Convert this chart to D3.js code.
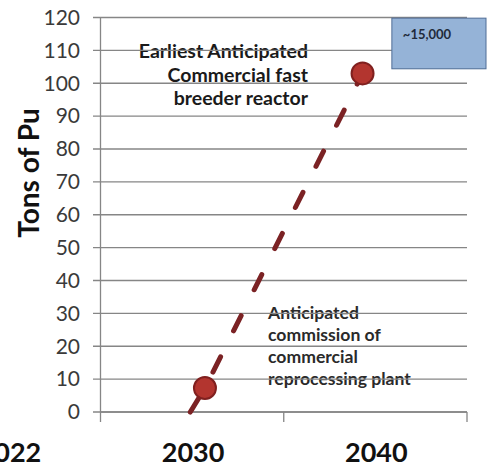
<!DOCTYPE html>
<html>
<head>
<meta charset="utf-8">
<script src="https://cdn.jsdelivr.net/npm/d3@7"></script>
<style>
  html, body { margin: 0; padding: 0; background: #fff; }
  svg { display: block; }
</style>
</head>
<body>
<div id="chart"></div>
<script>
// Axis categories and tick values
const categories = ["2022", "2030", "2040"];
const yTicks = [0, 10, 20, 30, 40, 50, 60, 70, 80, 90, 100, 110, 120];

// Plutonium stock path (year, tons of Pu)
const pathYears = [2029.9, 2030.7, 2039.3];
const pathTons = [0, 7.3, 103];
// Points that carry a milestone marker
const milestoneIdx = [1, 2];

// Milestone notes
const breederNote = ["Earliest Anticipated", "Commercial fast", "breeder reactor"];
const reprocessNote = ["Anticipated", "commission of", "commercial", "reprocessing plant"];
const calloutText = "~15,000";
const yTitle = "Tons of Pu";

const W = 487, H = 468;
const svg = d3.select("#chart").append("svg").attr("width", W).attr("height", H);

const y = d3.scaleLinear().domain([0, 120]).range([412, 17.5]);
const x = d3.scaleLinear().domain([2025, 2045]).range([100.5, 467]);
const step = x(2035) - x(2025);
const xBand = d3.scaleBand().domain(categories).range([x(2025) - step, x(2045)]);

const font = "Lato, 'Open Sans', sans-serif";

// Notes sit beneath the gridlines
const breederG = svg.append("g")
  .attr("font-family", font).attr("font-weight", 700).attr("font-size", 19.5)
  .attr("fill", "#1a1a1a").attr("text-anchor", "end");
breederNote.forEach((t, i) => {
  breederG.append("text").attr("x", 308).attr("y", 58.3 + i * 23.4).text(t);
});

const reprocG = svg.append("g")
  .attr("font-family", font).attr("font-weight", 700).attr("font-size", 17.6)
  .attr("fill", "#2a2a2a").attr("text-anchor", "start");
reprocessNote.forEach((t, i) => {
  reprocG.append("text").attr("x", 268).attr("y", 319 + i * 22).text(t);
});

// Horizontal gridlines and y axis
const grid = svg.append("g");
grid.selectAll("line.grid").data(yTicks).join("line")
  .attr("class", "grid")
  .attr("x1", 93).attr("x2", x(2045))
  .attr("y1", d => y(d)).attr("y2", d => y(d))
  .attr("stroke", "#868686").attr("stroke-width", 1.3);

svg.append("line")
  .attr("x1", x(2025)).attr("x2", x(2025))
  .attr("y1", y(120)).attr("y2", y(0))
  .attr("stroke", "#868686").attr("stroke-width", 1.3);

svg.append("g")
  .attr("font-family", font).attr("font-size", 21).attr("fill", "#3a3a3a")
  .attr("text-anchor", "end")
  .selectAll("text").data(yTicks).join("text")
  .attr("x", 80).attr("y", d => y(d)).attr("dy", "0.35em")
  .text(d => d);

// X axis: band boundaries as ticks, labels centred in each band
const xg = svg.append("g").attr("transform", `translate(0,${y(0)})`);
xg.append("line")
  .attr("x1", x(2025)).attr("x2", x(2045)).attr("y1", 0).attr("y2", 0)
  .attr("stroke", "#868686").attr("stroke-width", 1.3);
const bounds = categories.slice(1).map(c => xBand(c)).concat([xBand.range()[1]]);
xg.selectAll("line.tk").data(bounds).join("line")
  .attr("class", "tk")
  .attr("x1", d => d).attr("x2", d => d).attr("y1", 0).attr("y2", 10)
  .attr("stroke", "#868686").attr("stroke-width", 1.3);
xg.selectAll("text.cat").data(categories).join("text")
  .attr("class", "cat")
  .attr("x", d => xBand(d) + xBand.bandwidth() / 2 + 1)
  .attr("y", 50)
  .attr("text-anchor", "middle")
  .attr("font-family", font).attr("font-weight", 700).attr("font-size", 27)
  .attr("fill", "#111")
  .text(d => d);

// Y axis title
svg.append("text")
  .attr("transform", `translate(39,${(108 + 238) / 2}) rotate(-90)`)
  .attr("text-anchor", "middle")
  .attr("font-family", font).attr("font-weight", 700).attr("font-size", 28)
  .attr("fill", "#111")
  .text(yTitle);

// Callout box
const boxTop = y(119.8), boxBottom = y(104.4), boxLeft = x(2040.9);
svg.append("rect")
  .attr("x", boxLeft).attr("y", boxTop)
  .attr("width", 486 - boxLeft).attr("height", boxBottom - boxTop)
  .attr("fill", "#95b3d7").attr("stroke", "#4f6d96").attr("stroke-width", 1);
svg.append("text")
  .attr("x", boxLeft + 11).attr("y", boxTop + 21)
  .attr("font-family", font).attr("font-weight", 700).attr("font-size", 13)
  .attr("fill", "#1f2a3a")
  .text(calloutText);

// Dashed growth line and milestone markers
const pts = pathYears.map((yr, i) => ({ yr, v: pathTons[i] }));
const line = d3.line().x(d => x(d.yr)).y(d => y(d.v));
svg.append("path")
  .attr("d", line(pts))
  .attr("fill", "none")
  .attr("stroke", "#7b2224")
  .attr("stroke-width", 5)
  .attr("stroke-linecap", "round")
  .attr("stroke-dasharray", "17,29");

svg.selectAll("circle.ms").data(milestoneIdx.map(i => pts[i])).join("circle")
  .attr("class", "ms")
  .attr("cx", d => x(d.yr)).attr("cy", d => y(d.v))
  .attr("r", 11)
  .attr("fill", "#b3352f")
  .attr("stroke", "#80201f").attr("stroke-width", 2);
</script>
</body>
</html>
